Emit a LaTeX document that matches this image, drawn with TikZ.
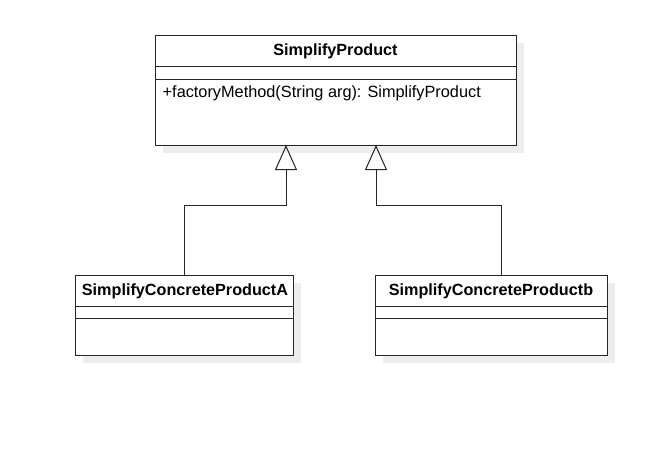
\documentclass[tikz,border=0pt]{standalone}
\usepackage{fontspec}
\setmainfont{Liberation Sans}
\usetikzlibrary{arrows.meta}
\begin{document}
\begin{tikzpicture}[x=1pt,y=-1pt,
  shadowbox/.style={fill=black!7, draw=none},
  umlbox/.style={draw=black!85, line width=1pt, fill=white, rectangle, inner sep=0pt, anchor=north west},
  titletext/.style={font=\bfseries\fontsize{16.2}{19}\selectfont, inner sep=0pt, anchor=center},
  membertext/.style={font=\fontsize{16.3}{19}\selectfont, inner sep=0pt, anchor=west},
  sepline/.style={draw=black!85, line width=1pt},
  inherit/.style={draw=black!85, line width=1pt, -{Triangle[open, length=25pt, width=22pt, line width=1pt]}}
]
\useasboundingbox (0,0) rectangle (664,456);
% shadows
\fill[shadowbox] (163,43) rectangle (524,153);
\fill[shadowbox] (83,283) rectangle (301,363);
\fill[shadowbox] (383,283) rectangle (615,363);
% boxes
\node[umlbox, minimum width=361pt, minimum height=110pt] (top) at (155,35) {};
\node[umlbox, minimum width=218pt, minimum height=80pt] (ca) at (75,275) {};
\node[umlbox, minimum width=232pt, minimum height=80pt] (cb) at (375,275) {};
% separators
\draw[sepline] (top.west |- 0,66) -- (top.east |- 0,66);
\draw[sepline] (top.west |- 0,79) -- (top.east |- 0,79);
\draw[sepline] (ca.west |- 0,306) -- (ca.east |- 0,306);
\draw[sepline] (ca.west |- 0,318) -- (ca.east |- 0,318);
\draw[sepline] (cb.west |- 0,306) -- (cb.east |- 0,306);
\draw[sepline] (cb.west |- 0,318) -- (cb.east |- 0,318);
% texts
\node[titletext] (toptitle) at (335.5,51) {SimplifyProduct};
\node[membertext] (method) at (162.5,93) {+factoryMethod(String arg): SimplifyProduct};
\node[titletext] (catitle) at (185,291.5) {SimplifyConcreteProductA};
\node[titletext] (cbtitle) at (491,291.5) {SimplifyConcreteProductb};
% connectors
\coordinate (tipA) at (286,145);
\coordinate (tipB) at (376,145);
\coordinate (startB) at (501,275);
\draw[inherit] (ca.north) -- ++(0,-70) -| (tipA);
\draw[inherit] (startB) -- ++(0,-70) -| (tipB);
\end{tikzpicture}
\end{document}
